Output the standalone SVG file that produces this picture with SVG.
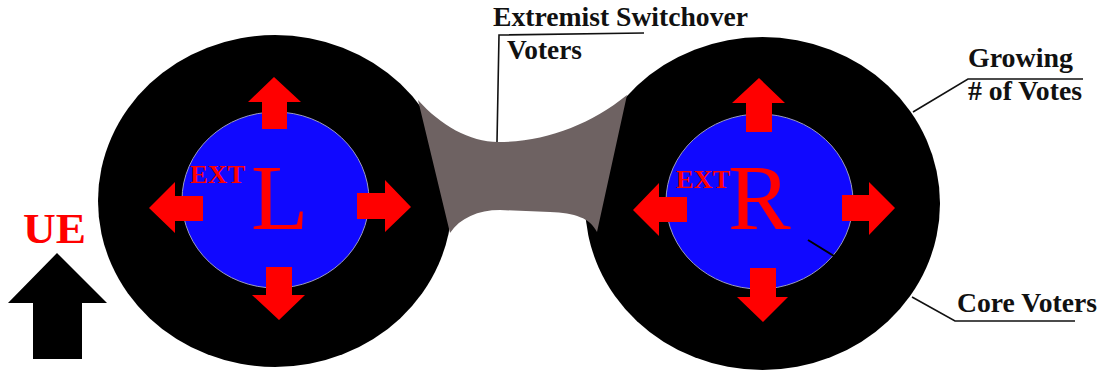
<svg xmlns="http://www.w3.org/2000/svg" width="1102" height="374" viewBox="0 0 1102 374">
<defs>
<style>
.ring{fill:#000}
.core{fill:#1008ff;stroke:#9a9ac0;stroke-width:1}
.arr{fill:#ff0000}
.big{font-family:"Liberation Serif","Times New Roman",serif;font-size:94px;fill:#ff0000}
.ext{font-family:"Liberation Serif","Times New Roman",serif;font-weight:bold;font-size:25px;fill:#ff0000}
.lbl{font-family:"Liberation Serif","Times New Roman",serif;font-weight:bold;font-size:27px;fill:#111}
.lead{fill:none;stroke:#111;stroke-width:1.6}
</style>
</defs>
<rect width="1102" height="374" fill="#fff"/>
<g id="left-bloc">
<ellipse class="ring" cx="275" cy="201" rx="177" ry="166"/>
</g>
<g id="right-bloc">
<ellipse class="ring" cx="762.5" cy="203.5" rx="177.5" ry="166.5"/>
</g>
<g id="switchover">
<path fill="#6e6262" d="M418,100 C440,125 470,142 498,142 C545,142 590,125 627,95 L597,232 C590,218 575,213 550,212 L500,210 C478,210 460,218 450,233 Z"/>
</g>
<g id="left-core">
<ellipse class="core" cx="275.5" cy="200" rx="93.5" ry="88"/>
<polygon class="arr" points="274,77 301,102 287,102 287,129 262,129 262,102 248,102"/>
<polygon class="arr" points="279,320 305,295 292,295 292,267 266,267 266,295 252,295"/>
<polygon class="arr" points="149,208 175,182 175,196 203,196 203,221 175,221 175,233"/>
<polygon class="arr" points="411,207 385,180 385,193 357,193 357,219 385,219 385,232"/>
<text class="ext" x="190" y="183" textLength="55" lengthAdjust="spacingAndGlyphs">EXT</text>
<text class="big" x="251" y="229">L</text>
</g>
<g id="right-core">
<ellipse class="core" cx="759.5" cy="201.5" rx="93.5" ry="87.5"/>
<polygon class="arr" points="759,78 785,103 772,103 772,132 746,132 746,103 732,103"/>
<polygon class="arr" points="763,322 788,297 776,297 776,268 750,268 750,297 737,297"/>
<polygon class="arr" points="633,210 659,183 659,197 687,197 687,222 659,222 659,236"/>
<polygon class="arr" points="895,208 869,182 869,195 842,195 842,221 869,221 869,235"/>
<text class="ext" x="676" y="188" textLength="54" lengthAdjust="spacingAndGlyphs">EXT</text>
<text class="big" x="728" y="229">R</text>
<line x1="808" y1="240" x2="834" y2="256" stroke="#000" stroke-width="2"/>
</g>
<g id="ue">
<text x="23" y="243" font-family="Liberation Serif, Times New Roman, serif" font-weight="bold" font-size="43" fill="#ff0000" textLength="63" lengthAdjust="spacingAndGlyphs">UE</text>
<polygon fill="#000" points="57,253 107,303 82,303 82,359 33,359 33,303 8,303"/>
</g>
<g id="connectors">
<polyline class="lead" points="497,142 499,35 644,33"/>
<polyline class="lead" points="913,112 968,79 1083,79"/>
<polyline class="lead" points="912,297 955,321 1075,321"/>
</g>
<g id="labels">
<text class="lbl" x="493" y="26" textLength="255" lengthAdjust="spacingAndGlyphs">Extremist Switchover</text>
<text class="lbl" x="507" y="59" textLength="75" lengthAdjust="spacingAndGlyphs">Voters</text>
<text class="lbl" x="968" y="67" textLength="105" lengthAdjust="spacingAndGlyphs">Growing</text>
<text class="lbl" x="968" y="100" textLength="114" lengthAdjust="spacingAndGlyphs"># of Votes</text>
<text class="lbl" x="957" y="312" textLength="140" lengthAdjust="spacingAndGlyphs">Core Voters</text>
</g>
</svg>
